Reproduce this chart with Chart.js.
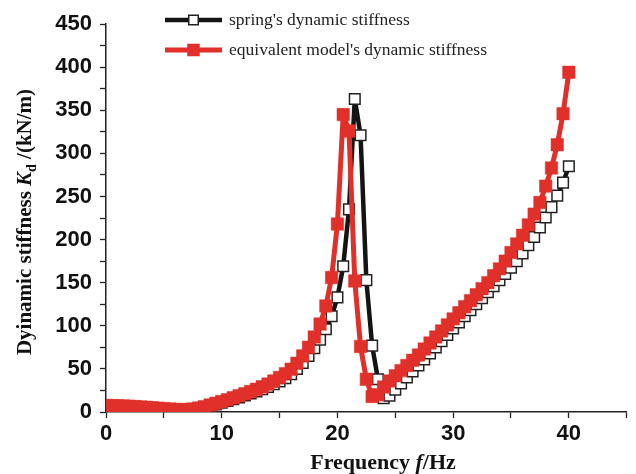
<!DOCTYPE html>
<html><head><meta charset="utf-8">
<script src="https://cdn.jsdelivr.net/npm/chart.js@4/dist/chart.umd.min.js"></script>
<style>html,body{margin:0;padding:0;background:#fff;}#wrap{width:636px;height:474px;position:relative;}</style>
</head><body><div id="wrap"><canvas id="c" width="636" height="474"></canvas></div>
<script>
// Frequency (Hz)
const freqs = [0,0.5,1,1.5,2,2.5,3,3.5,4,4.5,5,5.5,6,6.5,7,7.5,8,8.5,9,9.5,
  10,10.5,11,11.5,12,12.5,13,13.5,14,14.5,15,15.5,16,16.5,17,17.5,18,18.5,19,19.5,
  20,20.5,21,21.5,22,22.5,23,23.5,24,24.5,25,25.5,26,26.5,27,27.5,28,28.5,29,29.5,
  30,30.5,31,31.5,32,32.5,33,33.5,34,34.5,35,35.5,36,36.5,37,37.5,38,38.5,39,39.5,40];
// spring's dynamic stiffness (kN/m)
const springStiffness = [7.0,6.9,6.7,6.5,6.2,5.8,5.4,4.9,4.4,3.9,3.4,2.9,2.5,2.2,2.2,2.7,3.7,5.1,6.8,8.7,
  10.7,12.7,14.8,16.9,19.1,21.4,23.8,26.4,29.2,32.2,35.5,39.2,43.8,50,57,65,74,84,96,111,
  133,169,235,363,321,153,77,38,16,19,26,33,40,47,54,61,68,75,82,89.5,
  97,104,111,118,125,132,139,146,153,160,167.5,175,184,193.5,203,214,225.6,237.6,251,266,285];
// equivalent model's dynamic stiffness (kN/m)
const modelStiffness = [7.5,7.4,7.2,7.0,6.7,6.3,5.9,5.4,4.9,4.4,3.9,3.4,3.0,2.7,2.8,3.4,4.6,6.2,8.1,10.1,
  12.2,14.3,16.5,18.8,21.2,23.7,26.3,29.2,32.4,36.0,40.0,44.5,49.5,56.5,65,75,87,102,123,156,
  218,345,326,152,76,38,18,20,29,36,42,48,54,60,66,73,80,87,94,101,
  108,115,122,129,136,143,150,158,166,175,185,195,205,217,229.5,243,262,283,310,346,394];
const seriesNames = ["spring's dynamic stiffness", "equivalent model's dynamic stiffness"];
const xMajorTicks = [0,10,20,30,40];
const yMajorTicks = [0,50,100,150,200,250,300,350,400,450];

const RED = '#E1302A';
const BLACK = '#141414';
const TICK_FONT = {family: "'Liberation Sans Narrow','Arial Narrow','Liberation Sans',Arial,sans-serif", weight: 'bold', size: 22};

const decor = {
  id: 'decor',
  afterDraw(chart) {
    const ctx = chart.ctx;
    const serif = "'Liberation Serif','Times New Roman',serif";
    ctx.save();
    ctx.fillStyle = '#111';
    // X title
    const parts = [
      {t: 'Frequency ', f: 'bold 22px ' + serif},
      {t: 'f', f: 'italic bold 22px ' + serif},
      {t: '/Hz', f: 'bold 22px ' + serif}
    ];
    let w = 0;
    parts.forEach(p => { ctx.font = p.f; p.w = ctx.measureText(p.t).width; w += p.w; });
    let x = 383 - w / 2;
    ctx.textBaseline = 'alphabetic'; ctx.textAlign = 'left';
    parts.forEach(p => { ctx.font = p.f; ctx.fillText(p.t, x, 469); x += p.w; });
    // Y title
    ctx.save();
    ctx.translate(31, 222);
    ctx.rotate(-Math.PI / 2);
    const yp = [
      {t: 'Dyinamic stiffness ', f: 'bold 21px ' + serif, dy: 0},
      {t: 'K', f: 'italic bold 21px ' + serif, dy: 0},
      {t: 'd', f: 'bold 14px ' + serif, dy: 5},
      {t: ' /(kN/m)', f: 'bold 21px ' + serif, dy: 0}
    ];
    w = 0;
    yp.forEach(p => { ctx.font = p.f; p.w = ctx.measureText(p.t).width; w += p.w; });
    x = -w / 2;
    yp.forEach(p => { ctx.font = p.f; ctx.fillText(p.t, x, p.dy); x += p.w; });
    ctx.restore();
    // Legend
    const items = [
      {y: 20, line: BLACK, lw: 4.5, fill: '#fff', stroke: '#222', size: 11},
      {y: 50, line: RED, lw: 5, fill: RED, stroke: RED, size: 12.5}
    ];
    items.forEach((it, i) => {
      ctx.strokeStyle = it.line; ctx.lineWidth = it.lw;
      ctx.beginPath(); ctx.moveTo(165, it.y); ctx.lineTo(222, it.y); ctx.stroke();
      ctx.fillStyle = it.fill; ctx.fillRect(193.5 - it.size / 2, it.y - it.size / 2, it.size, it.size);
      if (i === 0) { ctx.strokeStyle = it.stroke; ctx.lineWidth = 1.5; ctx.strokeRect(193.5 - it.size / 2 + 0.75, it.y - it.size / 2 + 0.75, it.size - 1.5, it.size - 1.5); }
      ctx.fillStyle = '#222';
      ctx.font = '17.5px ' + serif;
      ctx.textBaseline = 'middle';
      ctx.fillText(seriesNames[i], 229, it.y);
    });
    ctx.restore();
  }
};

new Chart(document.getElementById('c').getContext('2d'), {
  type: 'line',
  data: {
    datasets: [
      {
        label: seriesNames[1],
        data: freqs.map((f, i) => ({x: f, y: modelStiffness[i]})),
        borderColor: RED, backgroundColor: RED, borderWidth: 5, borderJoinStyle: 'round',
        pointStyle: 'rect', pointRadius: 8.8, pointBorderWidth: 0.5,
        pointBackgroundColor: RED, pointBorderColor: RED, order: 0, tension: 0
      },
      {
        label: seriesNames[0],
        data: freqs.map((f, i) => ({x: f, y: springStiffness[i]})),
        borderColor: BLACK, backgroundColor: '#fff', borderWidth: 4.5, borderJoinStyle: 'round',
        pointStyle: 'rect', pointRadius: 7.5, pointBorderWidth: 1.5,
        pointBackgroundColor: '#fff', pointBorderColor: '#222', order: 1, tension: 0
      }
    ]
  },
  options: {
    responsive: false, animation: false, devicePixelRatio: 1,
    layout: {padding: {top: 24, right: 2, left: 0, bottom: 0}},
    plugins: {legend: {display: false}, tooltip: {enabled: false}},
    scales: {
      x: {
        type: 'linear', min: 0, max: 45,
        afterFit(s) { s.height = 62; },
        ticks: {stepSize: 5, autoSkip: false, maxRotation: 0, padding: 3, color: '#111', font: TICK_FONT,
          callback: v => xMajorTicks.includes(v) ? String(v) : ''},
        grid: {display: true, drawOnChartArea: false, drawTicks: true, tickLength: 6, tickColor: '#222', tickWidth: 1.3},
        border: {display: true, color: '#222', width: 1.5}
      },
      y: {
        min: 0, max: 450,
        afterFit(s) { s.width = 106; },
        ticks: {stepSize: 25, autoSkip: false, padding: 8, color: '#111', font: TICK_FONT,
          callback: v => yMajorTicks.includes(v) ? String(v) : ''},
        grid: {display: true, drawOnChartArea: false, drawTicks: true, tickLength: 6, tickColor: '#222', tickWidth: 1.3},
        border: {display: true, color: '#222', width: 1.5}
      }
    }
  },
  plugins: [decor]
});
</script>
</body></html>
